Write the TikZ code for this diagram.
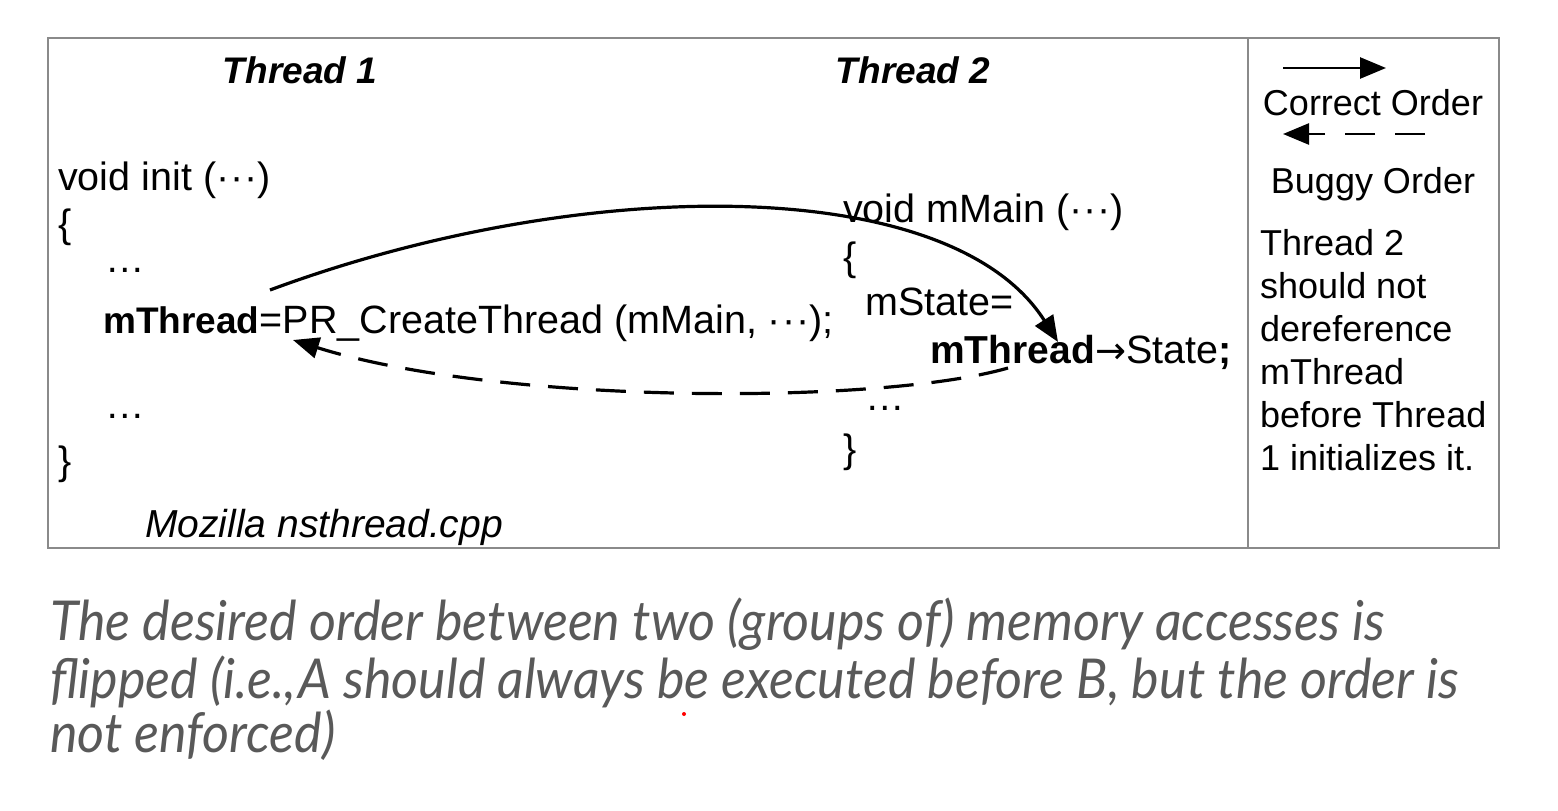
\documentclass[tikz,border=0pt]{standalone}
\usepackage{fontspec}
\setmainfont{Liberation Sans}
\newfontfamily\capfont[FakeStretch=0.945]{Lato}
\newfontfamily\symfont{DejaVu Sans}
\usetikzlibrary{arrows.meta}
\definecolor{capgray}{HTML}{595959}
\definecolor{boxgray}{HTML}{8A8A8A}
\newcommand{\mydots}{·\kern1pt·\kern1pt·}
\begin{document}
\begin{tikzpicture}[x=1pt,y=-1pt,
  code/.style={anchor=base west,inner sep=0pt,font=\fontsize{39.5}{46}\selectfont},
  boldcode/.style={anchor=base west,inner sep=0pt,font=\fontsize{37}{44}\selectfont\bfseries},
  head/.style={anchor=base,inner sep=0pt,font=\fontsize{37}{44}\selectfont\bfseries\itshape},
  legend/.style={anchor=base west,inner sep=0pt,font=\fontsize{36}{43}\selectfont},
  captext/.style={anchor=base west,inner sep=0pt,text=capgray,font=\capfont\itshape\fontsize{55}{62}\selectfont},
  order/.style={line width=3.2pt,-{Triangle[length=26pt,width=21pt]}},
  buggy/.style={order,dash pattern=on 30pt off 18pt}]
\useasboundingbox (0,0) rectangle (1558,811);
\draw[boxgray,line width=1.5pt] (48,38) rectangle (1499,548);
\draw[boxgray,line width=1.5pt] (1248,38) -- (1248,548);
% headings
\node[head] (h1) at (300,83) {Thread 1};
\node[head] (h2) at (913,83) {Thread 2};
% thread 1 code
\node[code] (i1) at (58,190) {void init (\mydots)};
\node[code] (i2) at (58,237) {\{};
\node[code] (i3) at (105,272) {…};
\node[boldcode] (m1) at (103,333) {mThread};
\node[code] (i4) at (m1.base east) {=PR\_CreateThread (mMain, \mydots);};
\node[code] (i5) at (105,418) {…};
\node[code] (i6) at (58,474) {\}};
\node[code,font=\fontsize{39}{44}\selectfont\itshape] (moz) at (145,537) {Mozilla nsthread.cpp};
% thread 2 code
\node[code] (j1) at (843,222) {void mMain (\mydots)};
\node[code] (j2) at (843,270) {\{};
\node[code] (j3) at (865,315) {mState=};
\node[code,font=\fontsize{39}{46}\selectfont\bfseries] (m2) at (930,363) {mThread};
\node[code] (j4) at (m2.base east) {{\symfont\fontsize{37}{44}\selectfont →}State\textbf{;}};
\node[code] (j5) at (865,410) {…};
\node[code] (j6) at (843,462) {\}};
% legend
\coordinate (ls1) at (1283,68);
\coordinate (le1) at (1386,68);
\coordinate (ls2) at (1425,134);
\coordinate (le2) at (1283,134);
\draw[order,line width=2.6pt] (ls1) -- (le1);
\draw[buggy,line width=2.6pt,dash pattern=on 30pt off 20pt] (ls2) -- (le2);
\node[legend,anchor=base] (lc) at (1373,115) {Correct Order};
\node[legend,anchor=base] (lb) at (1373,193) {Buggy Order};
\node[legend,align=left,anchor=north west] (lt) at (1260,229) {Thread 2\\should not\\dereference\\mThread\\before Thread\\1 initializes it.};
% order arrows
\coordinate (s1) at (270,290);
\coordinate (t1) at (1058,342);
\coordinate (s2) at (1008,368);
\coordinate (t2) at (293,340);
\draw[order] (s1) .. controls (580,175) and (950,172) .. (t1);
\draw[buggy] (s2) .. controls (880,405) and (500,405) .. (t2);
% caption
\node[captext] (c1) at (50,640) {The desired order between two (groups of) memory accesses is};
\node[captext] (c2) at (50,698) {flipped (i.e.,\kern2pt A should always be executed before B, but the order is};
\node[captext] (c3) at (50,752) {not enforced)};
\fill[red] (684,714) circle (2pt);
\end{tikzpicture}
\end{document}
